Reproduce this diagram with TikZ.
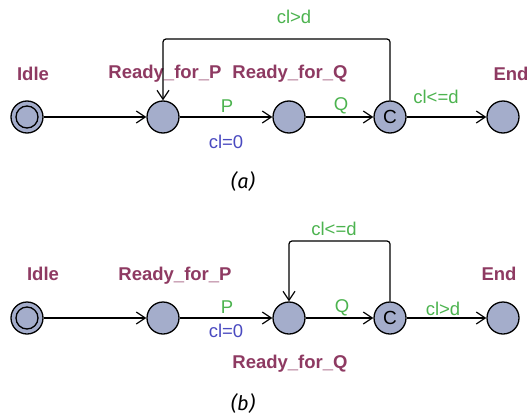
\documentclass[tikz,border=0pt]{standalone}
\usepackage{fontspec}
\setmainfont{Liberation Sans}
\newfontfamily\capfont{Fira Sans}
\usetikzlibrary{arrows.meta}
\definecolor{locfill}{HTML}{A4ADCB}
\definecolor{locname}{HTML}{8E3A62}
\definecolor{guard}{HTML}{4CB34F}
\definecolor{assign}{HTML}{4A4AC0}
\tikzset{
  loc/.style={circle,draw=black,fill=locfill,line width=1.3pt,minimum size=32pt,inner sep=0pt},
  lname/.style={text=locname,font=\fontsize{18.5}{18.5}\selectfont\bfseries,inner sep=0pt},
  glabel/.style={text=guard,font=\fontsize{18.5}{18.5}\selectfont,inner sep=0pt},
  alabel/.style={text=assign,font=\fontsize{18.5}{18.5}\selectfont,inner sep=0pt},
  captext/.style={font=\capfont\fontsize{20}{20}\selectfont\itshape,inner sep=0pt},
  conn/.style={draw=black,line width=1.2pt,-{Straight Barb[length=9pt,width=12pt,line width=1.2pt]}},
}
\begin{document}
\begin{tikzpicture}[x=1pt,y=-1pt]
\useasboundingbox (0,0) rectangle (527,415);
% ---------------- (a)
\node[loc] (a1) at (27,117) {};
\node[circle,draw=black,line width=1.3pt,minimum size=22pt,inner sep=0pt] (a1i) at (a1) {};
\node[loc] (a2) at (163,117) {};
\node[loc] (a3) at (289,117) {};
\node[loc] (a4) at (390,117) {\fontsize{19}{19}\selectfont C};
\node[loc] (a5) at (503,117) {};
\node[lname] (na1) at (33,74) {Idle};
\node[lname] (na2) at (165,74) {Ready\_for\_P};
\node[lname] (na3) at (290,74) {Ready\_for\_Q};
\node[lname] (na5) at (511,74) {End};
\draw[conn] (a1) -- (a2);
\draw[conn] (a2) -- (a3);
\draw[conn] (a3) -- (a4);
\draw[conn] (a4) -- (a5);
\coordinate (la1) at (390,39);
\coordinate (la2) at (163,39);
\draw[conn,rounded corners=3pt] (a4.north) -- (la1) -- (la2) -- (a2.north);
\node[glabel] (ga1) at (227,106) {P};
\node[alabel] (aa1) at (226,142) {cl=0};
\node[glabel] (ga2) at (341,106) {Q};
\node[glabel] (ga3) at (436,97) {cl<=d};
\node[glabel] (ga4) at (294,17) {cl>d};
\node[captext] (capa) at (243,181) {(a)};
% ---------------- (b)
\node[loc] (b1) at (27,318) {};
\node[circle,draw=black,line width=1.3pt,minimum size=22pt,inner sep=0pt] (b1i) at (b1) {};
\node[loc] (b2) at (163,318) {};
\node[loc] (b3) at (289,318) {};
\node[loc] (b4) at (390,318) {\fontsize{19}{19}\selectfont C};
\node[loc] (b5) at (503,318) {};
\node[lname] (nb1) at (43,274) {Idle};
\node[lname] (nb2) at (175,276) {Ready\_for\_P};
\node[lname] (nb3) at (290,364) {Ready\_for\_Q};
\node[lname] (nb5) at (499,274) {End};
\draw[conn] (b1) -- (b2);
\draw[conn] (b2) -- (b3);
\draw[conn] (b3) -- (b4);
\draw[conn] (b4) -- (b5);
\coordinate (lb1) at (390,241);
\coordinate (lb2) at (289,241);
\draw[conn,rounded corners=3pt] (b4.north) -- (lb1) -- (lb2) -- (b3.north);
\node[glabel] (gb1) at (227,307) {P};
\node[alabel] (ab1) at (226,331) {cl=0};
\node[glabel] (gb2) at (342,308) {Q};
\node[glabel] (gb3) at (443,309) {cl>d};
\node[glabel] (gb4) at (334,229) {cl<=d};
\node[captext] (capb) at (243,403) {(b)};
\end{tikzpicture}
\end{document}
